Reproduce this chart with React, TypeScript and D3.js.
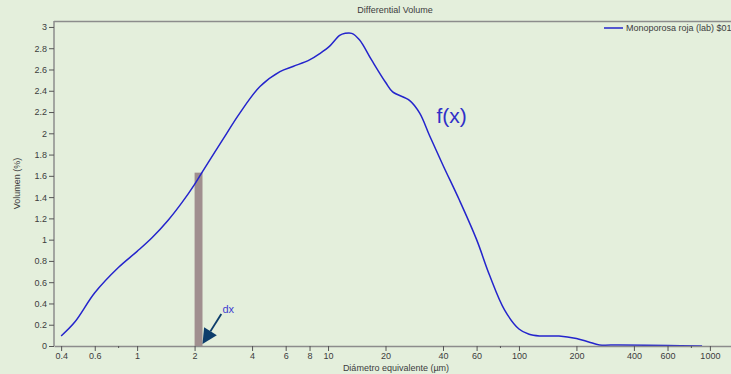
import * as d3 from "d3";
import React, { useEffect, useRef } from "react";

// diámetro (µm) y volumen (%)
const diameters = [0.4, 0.474, 0.6, 0.8, 1.0, 1.2, 1.45, 1.72, 2.0, 2.2, 2.83, 3.45, 4.4, 5.6, 6.6, 8.0, 9.05, 10.2, 11.5, 12.3, 13.3, 14.6, 16.9, 20, 21.8, 26.7, 30.2, 34, 40, 48.8, 60, 70, 84, 100, 113, 128, 162, 200, 232, 264, 334, 600, 910];
const volumes = [0.094, 0.23, 0.5, 0.74, 0.89, 1.02, 1.18, 1.35, 1.52, 1.64, 1.95, 2.19, 2.44, 2.58, 2.63, 2.69, 2.75, 2.82, 2.92, 2.94, 2.94, 2.88, 2.69, 2.48, 2.39, 2.31, 2.19, 1.98, 1.7, 1.37, 1.0, 0.67, 0.34, 0.16, 0.11, 0.094, 0.094, 0.07, 0.038, 0.01, 0.01, 0.005, 0.0];

const xTickLabels = [0.4, 0.6, 1, 2, 4, 6, 8, 10, 20, 40, 60, 100, 200, 400, 600, 1000];
const xMinorTicks = [0.8, 80, 800];
const yTicks = [0, 0.2, 0.4, 0.6, 0.8, 1, 1.2, 1.4, 1.6, 1.8, 2, 2.2, 2.4, 2.6, 2.8, 3];

const dxBar = [2.0, 2.2];
const dxBarHeight = 1.63;

const seriesName = "Monoporosa roja (lab) $01";

const App = () => {
  const ref = useRef(null);

  useEffect(() => {
    const W = 731;
    const H = 374;
    const margin = { left: 54, top: 21, bottom: 28 };
    const plotBottom = H - margin.bottom;

    const bg = "#e4efdc";
    const axisColor = "#8c8c8c";
    const textColor = "#3c3c3c";
    const lineColor = "#2424cc";
    const arrowColor = "#0d3d6b";

    d3.select(ref.current).selectAll("*").remove();
    const svg = d3
      .select(ref.current)
      .append("svg")
      .attr("width", W)
      .attr("height", H)
      .style("position", "absolute")
      .style("left", 0)
      .style("top", 0)
      .style("font-family", "'Liberation Sans', Arial, sans-serif");

    svg.append("rect").attr("width", W).attr("height", H).attr("fill", bg);

    // escalas
    const x = d3.scaleLog().domain([0.367, 1290]).range([margin.left, W]);
    const y = d3.scaleLinear().domain([0, 3.056]).range([plotBottom, margin.top]);

    // título
    svg
      .append("text")
      .attr("x", 395)
      .attr("y", 13)
      .attr("text-anchor", "middle")
      .attr("font-size", 9)
      .attr("fill", textColor)
      .text("Differential Volume");

    // barra dx
    svg
      .append("rect")
      .attr("x", x(dxBar[0]))
      .attr("y", y(dxBarHeight))
      .attr("width", x(dxBar[1]) - x(dxBar[0]))
      .attr("height", y(0) - y(dxBarHeight))
      .attr("fill", "#a08f8f");

    // curva
    const line = d3
      .line()
      .x((d) => x(d[0]))
      .y((d) => y(d[1]))
      .curve(d3.curveCatmullRom.alpha(0.5));
    svg
      .append("path")
      .datum(diameters.map((d, i) => [d, volumes[i]]))
      .attr("fill", "none")
      .attr("stroke", lineColor)
      .attr("stroke-width", 1.5)
      .attr("d", line);

    // marco superior
    svg
      .append("line")
      .attr("x1", margin.left)
      .attr("x2", W)
      .attr("y1", margin.top + 0.5)
      .attr("y2", margin.top + 0.5)
      .attr("stroke", axisColor)
      .attr("stroke-width", 1.5);

    // eje x
    const gx = svg.append("g").attr("transform", `translate(0, ${plotBottom})`);
    gx.call(
      d3
        .axisBottom(x)
        .tickValues(xTickLabels)
        .tickFormat((d) => `${d}`)
        .tickSize(5)
        .tickSizeOuter(0)
        .tickPadding(2)
    );
    gx.select(".domain").attr("stroke", axisColor).attr("stroke-width", 1.5);
    gx.selectAll(".tick line").attr("stroke", "#555");
    gx.selectAll(".tick text").attr("fill", textColor).attr("font-size", 9).attr("font-family", "'Liberation Sans', Arial, sans-serif");
    gx.selectAll(".minor")
      .data(xMinorTicks)
      .enter()
      .append("line")
      .attr("x1", (d) => x(d))
      .attr("x2", (d) => x(d))
      .attr("y1", 0)
      .attr("y2", 2)
      .attr("stroke", "#555");

    // eje y
    const gy = svg.append("g").attr("transform", `translate(${margin.left}, 0)`);
    gy.call(
      d3
        .axisLeft(y)
        .tickValues(yTicks)
        .tickFormat((d) => `${d3.format("~g")(d)}`)
        .tickSize(5)
        .tickSizeOuter(0)
        .tickPadding(2)
    );
    gy.select(".domain")
      .attr("d", `M0,${margin.top}V${plotBottom}`)
      .attr("stroke", axisColor)
      .attr("stroke-width", 1.5);
    gy.selectAll(".tick line").attr("stroke", "#555");
    gy.selectAll(".tick text").attr("fill", textColor).attr("font-size", 9).attr("font-family", "'Liberation Sans', Arial, sans-serif");

    // títulos de ejes
    svg
      .append("text")
      .attr("x", 396)
      .attr("y", 371)
      .attr("text-anchor", "middle")
      .attr("font-size", 9)
      .attr("fill", textColor)
      .text("Diámetro equivalente (µm)");
    svg
      .append("text")
      .attr("transform", `translate(20, ${(margin.top + plotBottom) / 2}) rotate(-90)`)
      .attr("text-anchor", "middle")
      .attr("font-size", 9)
      .attr("fill", textColor)
      .text("Volumen (%)");

    // leyenda
    svg
      .append("line")
      .attr("x1", 604)
      .attr("x2", 623)
      .attr("y1", 28)
      .attr("y2", 28)
      .attr("stroke", lineColor)
      .attr("stroke-width", 1.5);
    svg
      .append("text")
      .attr("x", 626)
      .attr("y", 31)
      .attr("font-size", 9)
      .attr("fill", textColor)
      .text(seriesName);

    // anotaciones
    svg
      .append("text")
      .attr("x", x(37))
      .attr("y", y(2.1))
      .attr("font-size", 21)
      .attr("fill", "#3030c8")
      .attr("font-family", "'Liberation Sans', Arial, sans-serif")
      .text("f(x)");

    svg
      .append("text")
      .attr("x", x(2.8))
      .attr("y", y(0.31))
      .attr("font-size", 11)
      .attr("fill", "#4040d0")
      .text("dx");

    // flecha hacia dx
    const tail = [x(2.76), y(0.3)];
    const tip = [x(2.2), y(0.0) - 2];
    const ang = Math.atan2(tip[1] - tail[1], tip[0] - tail[0]);
    const headLen = 15;
    const headHalf = 7.5;
    const base = [tip[0] - headLen * Math.cos(ang), tip[1] - headLen * Math.sin(ang)];
    svg
      .append("line")
      .attr("x1", tail[0])
      .attr("y1", tail[1])
      .attr("x2", base[0])
      .attr("y2", base[1])
      .attr("stroke", arrowColor)
      .attr("stroke-width", 1.8);
    const perp = ang + Math.PI / 2;
    svg
      .append("path")
      .attr(
        "d",
        `M${tip[0]},${tip[1]}L${base[0] + headHalf * Math.cos(perp)},${base[1] + headHalf * Math.sin(perp)}L${base[0] - headHalf * Math.cos(perp)},${base[1] - headHalf * Math.sin(perp)}Z`
      )
      .attr("fill", arrowColor);
  }, []);

  return <div ref={ref} />;
};

export default App;
